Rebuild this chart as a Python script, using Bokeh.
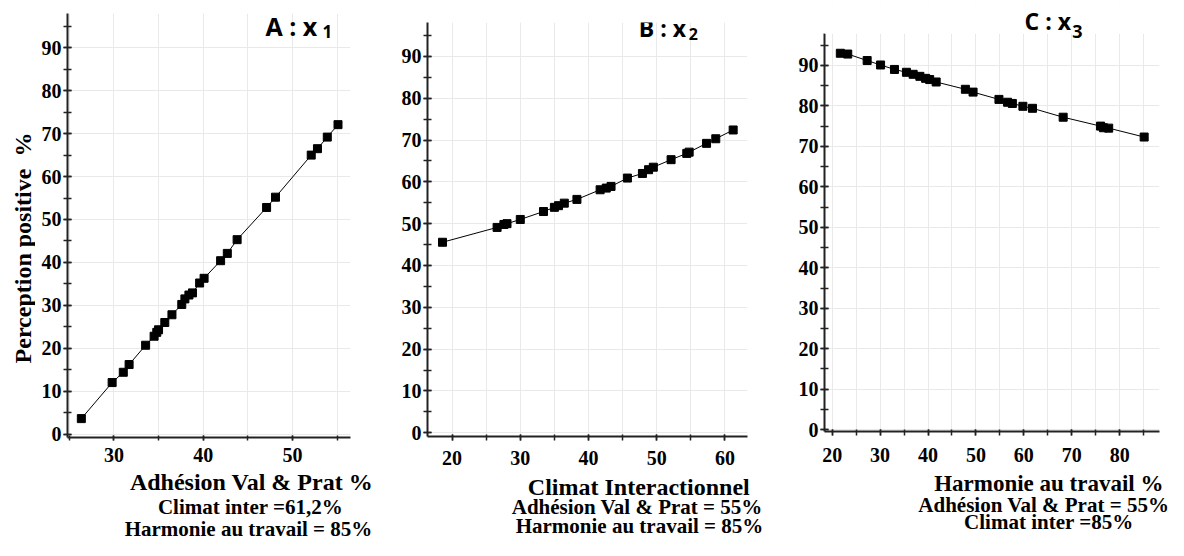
import math
from bokeh.plotting import figure
from bokeh.layouts import row, column
from bokeh.models import Range1d, SingleIntervalTicker, Label, BoxAnnotation
from bokeh.embed import file_html
from bokeh.resources import INLINE

# ---------------- data ----------------
A_x = [26.35, 29.8, 31.05, 31.7, 33.55, 34.5, 34.8, 35.0, 35.7, 36.5, 37.6, 37.95,
       38.4, 38.8, 39.6, 40.1, 41.95, 42.7, 43.8, 47.1, 48.1, 52.1, 52.8, 53.9, 55.1]
A_y = [3.6, 12.0, 14.4, 16.2, 20.7, 22.8, 23.7, 24.3, 26.0, 27.8, 30.2, 31.5,
       32.4, 32.9, 35.2, 36.3, 40.4, 42.1, 45.3, 52.8, 55.2, 65.0, 66.5, 69.2, 72.1]

B_x = [18.6, 26.6, 27.6, 28.05, 30.0, 33.4, 35.0, 35.6, 36.45, 38.3, 41.7, 42.6,
       43.3, 45.7, 47.9, 48.8, 49.5, 52.1, 54.4, 54.75, 57.3, 58.65, 61.2]
B_y = [45.55, 49.1, 49.8, 50.0, 51.0, 52.9, 53.9, 54.3, 54.9, 55.8, 58.1, 58.5,
       58.9, 60.9, 62.0, 62.9, 63.5, 65.3, 66.8, 67.1, 69.2, 70.3, 72.4]

C_x = [21.7, 23.25, 27.3, 30.1, 33.0, 35.5, 36.9, 38.3, 39.5, 40.35, 41.7, 47.8,
       49.4, 54.8, 56.6, 57.6, 59.8, 61.8, 68.2, 76.0, 76.6, 77.7, 85.1]
C_y = [93.0, 92.8, 91.2, 90.1, 89.0, 88.3, 87.8, 87.3, 86.8, 86.5, 85.9, 84.1,
       83.4, 81.6, 80.9, 80.6, 79.9, 79.4, 77.2, 75.0, 74.6, 74.5, 72.3]

titles = ["A : x", "B : x", "C : x"]
subscripts = ["1", "2", "3"]
x_titles = ["Adhésion Val & Prat %", "Climat Interactionnel", "Harmonie au travail %"]
notes1 = ["Climat inter =61,2%", "Adhésion Val & Prat = 55%", "Adhésion Val & Prat = 55%"]
notes2 = ["Harmonie au travail = 85%", "Harmonie au travail = 85%", "Climat inter =85%"]
y_title = "Perception positive \u00a0%"

SERIF = "Liberation Serif"
SANS = "Open Sans"
GRID = "#e9e9e9"
PAGE_H = 556
LIFT = 0.38      # baseline correction, fraction of the font size


def make_panel(xs, ys, xr, yr, w, h, bl, br, bt, bb, x_tick_out, x_standoff, y_bounds=None):
    p = figure(width=w, height=h, title=None,
               min_border_left=bl, min_border_right=br,
               min_border_top=bt, min_border_bottom=bb,
               x_range=Range1d(*xr), y_range=Range1d(*yr),
               output_backend="svg", toolbar_location=None)
    p.outline_line_color = None
    p.background_fill_color = "white"
    p.border_fill_color = "white"

    xt = SingleIntervalTicker(interval=10, num_minor_ticks=2)
    yt = SingleIntervalTicker(interval=10, num_minor_ticks=2)
    p.xaxis.ticker = xt
    p.xgrid.ticker = xt
    p.yaxis.ticker = yt
    p.ygrid.ticker = yt

    p.xgrid.grid_line_color = GRID
    p.xgrid.minor_grid_line_color = GRID
    p.ygrid.grid_line_color = GRID

    for ax in (p.xaxis[0], p.yaxis[0]):
        ax.axis_line_color = "#222222"
        ax.axis_line_width = 2
        ax.major_tick_line_color = "#222222"
        ax.minor_tick_line_color = "#222222"
        ax.major_tick_line_width = 1.5
        ax.minor_tick_line_width = 1.5
        ax.major_label_text_font = SERIF
        ax.major_label_text_font_style = "bold"
        ax.major_label_text_font_size = "20px"
        ax.major_label_text_color = "black"
    p.xaxis.major_tick_in = 2
    p.xaxis.major_tick_out = x_tick_out
    p.xaxis.minor_tick_in = 2
    p.xaxis.minor_tick_out = x_tick_out
    p.xaxis.major_label_standoff = x_standoff
    p.yaxis.major_tick_in = 4
    p.yaxis.major_tick_out = 4
    p.yaxis.minor_tick_in = 4
    p.yaxis.minor_tick_out = 4
    p.yaxis.major_label_standoff = 2
    if y_bounds is not None:
        p.yaxis.bounds = y_bounds
        p.add_layout(BoxAnnotation(bottom=y_bounds[1], fill_color="white", fill_alpha=1.0,
                                   line_color=None))

    p.line(xs, ys, line_color="black", line_width=1)
    p.scatter(xs, ys, marker="square", size=8, fill_color="black", line_color="black")
    return p


def text_fig(w, h):
    t = figure(width=w, height=h, title=None, x_range=Range1d(0, 1), y_range=Range1d(0, 1),
               x_axis_location=None, y_axis_location=None, min_border=0,
               output_backend="svg", toolbar_location=None)
    t.outline_line_color = None
    t.grid.visible = False
    return t


def add_label(p, text, x, y, size, font=SERIF, align="center", angle=0.0):
    if angle == 0:
        y = y + LIFT * size
    p.add_layout(Label(x=x, y=y, x_units="screen", y_units="screen", text=text,
                       text_font=font, text_font_style="bold",
                       text_font_size=f"{size}px", text_color="black",
                       text_align=align, text_baseline="alphabetic" if angle == 0 else "middle",
                       angle=angle))


# ---------------- Panel A ----------------
HA = 469
pA = make_panel(A_x, A_y, (24.8, 56.5), (-0.8, 98.0), 345, HA, 32, 30, 13, 32, 3, 7)
add_label(pA, titles[0], 198, 402, 25, font=SANS, align="left")
add_label(pA, subscripts[0], 255, 399.7, 17, font=SANS, align="left")
ylA = text_fig(35, HA)
add_label(ylA, y_title, 22, 437 - 247.5, 24, angle=math.pi / 2)
tA = text_fig(380, PAGE_H - HA)
add_label(tA, x_titles[0], 251, 65.5, 24)
add_label(tA, notes1[0], 250, 42, 21)
add_label(tA, notes2[0], 248, 20, 21)

# ---------------- Panel B ----------------
HB = 475
pB = make_panel(B_x, B_y, (16.4, 63.3), (-0.9, 98.1), 390, HB, 47, 23, 22, 39, 4, 10)
add_label(pB, titles[1], 211.3, 399.3, 23, font=SANS, align="left")
add_label(pB, subscripts[1], 261.3, 396, 16, font=SANS, align="left")
tB = text_fig(390, PAGE_H - HB)
add_label(tB, x_titles[1], 258.3, 60.5, 24)
add_label(tB, notes1[1], 256.7, 42, 21)
add_label(tB, notes2[1], 259, 22.7, 21)

# ---------------- Panel C ----------------
HC = 471
pC = make_panel(C_x, C_y, (18.4, 88.3), (-0.45, 104.8), 414, HC, 54, 25, 5, 40, 4, 12,
                y_bounds=(-0.45, 97.8))
add_label(pC, titles[2], 200, 401.7, 23, font=SANS, align="left")
add_label(pC, subscripts[2], 247.7, 392.7, 18, font=SANS, align="left")
tC = text_fig(414, PAGE_H - HC)
add_label(tC, x_titles[2], 278.3, 64.3, 23)
add_label(tC, notes1[2], 273.3, 43.3, 21)
add_label(tC, notes2[2], 278.3, 26.7, 21)

layout = row(column(row(ylA, pA), tA), column(row(pB), tB), column(row(pC), tC))
open("out.html", "w").write(file_html(layout, INLINE))
